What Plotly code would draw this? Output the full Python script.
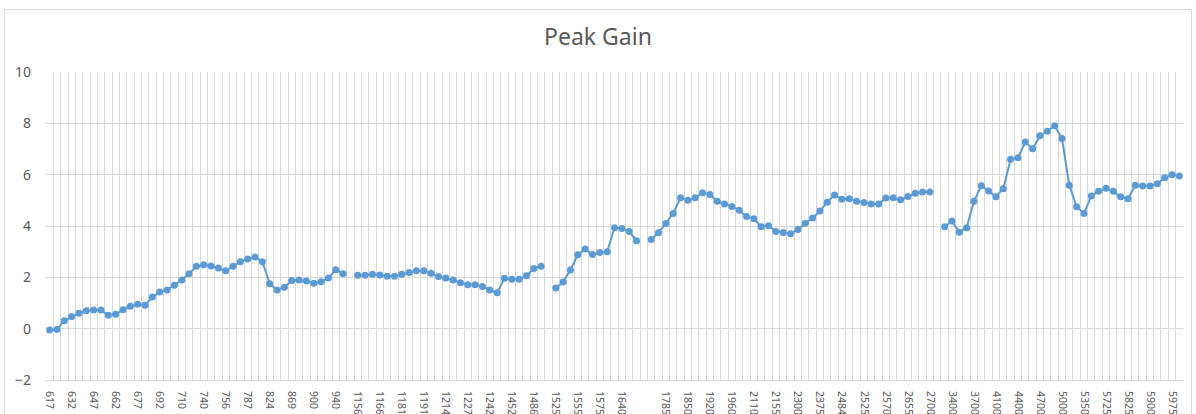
import plotly.graph_objects as go

# ---- data ----
tick_labels = ["617", "632", "647", "662", "677", "692", "710", "740", "756", "787",
               "824", "869", "900", "940", "1156", "1166", "1181", "1191", "1214", "1227",
               "1242", "1452", "1486", "1525", "1555", "1575", "1640", "", "1785", "1850",
               "1920", "1960", "2110", "2155", "2300", "2375", "2484", "2525", "2570", "2655",
               "2700", "3400", "3700", "4100", "4400", "4700", "5000", "5350", "5725", "5825",
               "5900", "5975"]

peak_gain = [
    -0.05, -0.03, 0.31, 0.47, 0.60, 0.70, 0.73, 0.73, 0.52, 0.56,
    0.74, 0.87, 0.95, 0.91, 1.23, 1.43, 1.51, 1.69, 1.90, 2.14,
    2.43, 2.49, 2.44, 2.36, 2.26, 2.43, 2.61, 2.71, 2.79, 2.61,
    1.75, 1.51, 1.61, 1.88, 1.90, 1.86, 1.77, 1.83, 1.97, 2.30,
    2.14, None, 2.08, 2.08, 2.12, 2.09, 2.04, 2.04, 2.12, 2.19,
    2.26, 2.26, 2.16, 2.03, 1.97, 1.90, 1.79, 1.71, 1.71, 1.64,
    1.51, 1.40, 1.96, 1.93, 1.93, 2.06, 2.34, 2.43, None, 1.58,
    1.82, 2.29, 2.88, 3.10, 2.89, 2.97, 3.00, 3.93, 3.90, 3.79,
    3.43, None, 3.47, 3.74, 4.10, 4.49, 5.10, 5.00, 5.10, 5.30,
    5.23, 4.96, 4.86, 4.76, 4.61, 4.37, 4.28, 3.97, 4.01, 3.79,
    3.75, 3.70, 3.86, 4.11, 4.31, 4.58, 4.93, 5.21, 5.04, 5.06,
    4.96, 4.92, 4.86, 4.86, 5.09, 5.10, 5.02, 5.15, 5.28, 5.32,
    5.32, None, 3.97, 4.19, 3.76, 3.93, 4.96, 5.57, 5.36, 5.14,
    5.45, 6.60, 6.66, 7.27, 7.01, 7.52, 7.69, 7.91, 7.41, 5.59,
    4.75, 4.49, 5.17, 5.35, 5.47, 5.35, 5.14, 5.06, 5.59, 5.56,
    5.56, 5.65, 5.88, 6.00, 5.95,
]

y_ticks = [-2, 0, 2, 4, 6, 8, 10]

n = len(peak_gain)
x_idx = list(range(1, n + 1))
label_every = 3
tick_pos = x_idx[::label_every][:len(tick_labels)]

BLUE = "#5b9bd5"
GRID = "#d9d9d9"
TXT = "#595959"
FONT = "Noto Sans"

W, H = 1196, 414
ML, MR, MT, MB = 46, 13, 72, 34

fig = go.Figure()
fig.add_trace(go.Scatter(
    x=x_idx, y=peak_gain, mode="lines+markers",
    line=dict(color=BLUE, width=2),
    marker=dict(color=BLUE, size=7, line=dict(width=0)),
    connectgaps=False, showlegend=False, hoverinfo="x+y",
))

pw = W - ML - MR
ph = H - MT - MB
fig.add_shape(type="rect", xref="paper", yref="paper",
              x0=(4.5 - ML) / pw, x1=(W - 4.5 - ML) / pw,
              y0=(H - MB - (H + 20)) / ph, y1=(H - MB - 9.5) / ph,
              line=dict(color=GRID, width=1), fillcolor="rgba(0,0,0,0)", layer="below")

fig.update_layout(
    width=W, height=H,
    margin=dict(l=ML, r=MR, t=MT, b=MB, autoexpand=False),
    paper_bgcolor="white", plot_bgcolor="white",
    font=dict(family=FONT, color=TXT),
    title=dict(text="Peak Gain", x=0.5, xref="container", xanchor="center",
               y=1 - 37 / H, yref="container", yanchor="middle",
               font=dict(size=23, color=TXT, family=FONT)),
    xaxis=dict(
        range=[0.5, n + 0.5], tickmode="array", tickvals=tick_pos, ticktext=tick_labels,
        tickangle=90, tickfont=dict(size=10.5, color=TXT), ticks="",
        showgrid=False, zeroline=False, showline=True, linecolor=GRID, linewidth=1,
        ticklabelstandoff=8, automargin=False,
        minor=dict(tick0=0.5, dtick=1, showgrid=True, gridcolor=GRID, gridwidth=1, ticks=""),
    ),
    yaxis=dict(
        range=[-2, 10], tickmode="array", tickvals=y_ticks,
        tickfont=dict(size=14, color=TXT), ticks="",
        showgrid=True, gridcolor=GRID, gridwidth=1, zeroline=False, showline=False,
        ticklabelstandoff=14, automargin=False,
    ),
)

fig.write_html(
    "out.html",
    config={"displayModeBar": False},
    post_script="document.body.style.margin='0';document.body.style.overflow='hidden';",
)
